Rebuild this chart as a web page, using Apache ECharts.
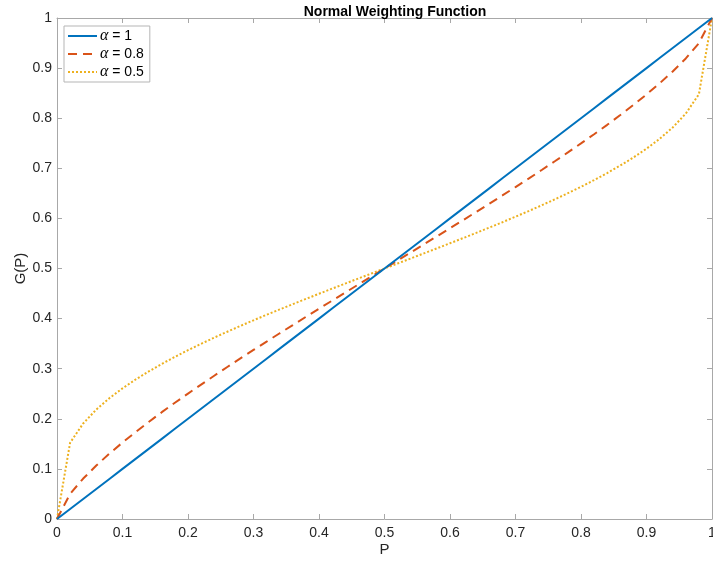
<!DOCTYPE html>
<html>
<head>
<meta charset="utf-8">
<script src="https://cdn.jsdelivr.net/npm/echarts@6/dist/echarts.min.js"></script>
<style>
  html, body { margin: 0; padding: 0; background: #fff; }
  #main { width: 713px; height: 562px; }
</style>
</head>
<body>
<div id="main"></div>
<script>
  // P samples (step 0.02)
  var pValues = [0, 0.02, 0.04, 0.06, 0.08, 0.1, 0.12, 0.14, 0.16, 0.18, 0.2, 0.22, 0.24, 0.26, 0.28, 0.3, 0.32, 0.34, 0.36, 0.38, 0.4, 0.42, 0.44, 0.46, 0.48, 0.5,
    0.52, 0.54, 0.56, 0.58, 0.6, 0.62, 0.64, 0.66, 0.68, 0.7, 0.72, 0.74, 0.76, 0.78, 0.8, 0.82, 0.84, 0.86, 0.88, 0.9, 0.92, 0.94, 0.96, 0.98, 1]
  var gAlpha1 = [0, 0.02, 0.04, 0.06, 0.08, 0.1, 0.12, 0.14, 0.16, 0.18, 0.2, 0.22, 0.24, 0.26, 0.28, 0.3, 0.32, 0.34, 0.36, 0.38, 0.4, 0.42, 0.44, 0.46, 0.48, 0.5,
    0.52, 0.54, 0.56, 0.58, 0.6, 0.62, 0.64, 0.66, 0.68, 0.7, 0.72, 0.74, 0.76, 0.78, 0.8, 0.82, 0.84, 0.86, 0.88, 0.9, 0.92, 0.94, 0.96, 0.98, 1]
  var gAlpha08 = [0, 0.0502, 0.0807, 0.1068, 0.1305, 0.1526, 0.1736, 0.1937, 0.2132, 0.2320, 0.2503, 0.2683, 0.2860, 0.3034, 0.3206, 0.3374, 0.3541, 0.3707, 0.3871, 0.4035, 0.4197, 0.4358, 0.4519, 0.4680, 0.4840, 0.5,
    0.5160, 0.5320, 0.5481, 0.5642, 0.5803, 0.5965, 0.6129, 0.6293, 0.6459, 0.6626, 0.6794, 0.6966, 0.7140, 0.7317, 0.7497, 0.7680, 0.7868, 0.8063, 0.8264, 0.8474, 0.8695, 0.8932, 0.9193, 0.9498, 1]
  var gAlpha05 = [0, 0.1522, 0.1907, 0.2185, 0.2412, 0.2608, 0.2784, 0.2945, 0.3095, 0.3236, 0.3370, 0.3497, 0.3620, 0.3738, 0.3854, 0.3966, 0.4076, 0.4183, 0.4289, 0.4393, 0.4496, 0.4598, 0.4699, 0.4800, 0.4900, 0.5,
    0.5100, 0.5200, 0.5301, 0.5402, 0.5504, 0.5607, 0.5711, 0.5817, 0.5924, 0.6034, 0.6146, 0.6262, 0.6380, 0.6503, 0.6630, 0.6764, 0.6905, 0.7055, 0.7216, 0.7392, 0.7588, 0.7815, 0.8093, 0.8478, 1]
  var seriesNames = ['α = 1', 'α = 0.8', 'α = 0.5']
  var tickLabels = ['0', '0.1', '0.2', '0.3', '0.4', '0.5', '0.6', '0.7', '0.8', '0.9', '1']

  function pairs (ys) {
    return pValues.map(function (p, i) { return [p, ys[i]] })
  }

  var font = 'Liberation Sans, Arial, Helvetica, sans-serif'
  var axisGray = '#a8a8a8'
  var textColor = '#262626'

  function fmt (v) {
    return tickLabels[Math.round(v * 10)]
  }

  var baseAxis = {
    type: 'value',
    min: 0,
    max: 1,
    interval: 0.1,
    axisLine: { show: true, onZero: false, lineStyle: { color: axisGray, width: 1 } },
    axisTick: { show: true, inside: true, length: 5, lineStyle: { color: axisGray } },
    splitLine: { show: false }
  }

  var myChart = echarts.init(document.getElementById('main'))
  myChart.setOption({
    animation: false,
    backgroundColor: '#ffffff',
    title: {
      text: 'Normal Weighting Function',
      left: 390,
      textAlign: 'center',
      top: 0,
      textStyle: { fontFamily: font, fontSize: 14, fontWeight: 'bold', color: '#000' }
    },
    grid: { left: 57, right: 1, top: 18, bottom: 43, containLabel: false, outerBoundsMode: 'none' },
    legend: {
      orient: 'vertical',
      left: 64,
      top: 26,
      padding: [2, 6, 2, 3],
      itemGap: 2,
      itemWidth: 29,
      itemHeight: 15,
      backgroundColor: '#fff',
      borderColor: '#b5b5b5',
      borderWidth: 1,
      borderRadius: 0,
      itemStyle: { opacity: 0 },
      data: seriesNames,
      formatter: function (name) {
        return '{a|α}' + name.slice(1)
      },
      textStyle: {
        fontFamily: font,
        fontSize: 14,
        color: '#000',
        padding: [0, 0, 0, -2],
        rich: {
          a: { fontFamily: 'Liberation Serif, DejaVu Serif, serif', fontStyle: 'italic', fontSize: 16, color: '#000' }
        }
      }
    },
    xAxis: [
      Object.assign({}, baseAxis, {
        position: 'bottom',
        name: 'P',
        nameLocation: 'middle',
        nameGap: 23,
        nameMoveOverlap: false,
        nameTextStyle: { fontFamily: font, fontSize: 15, color: textColor },
        axisLabel: { fontFamily: font, fontSize: 14, color: textColor, margin: 7, formatter: fmt }
      }),
      Object.assign({}, baseAxis, {
        position: 'top',
        axisLabel: { show: false }
      })
    ],
    yAxis: [
      Object.assign({}, baseAxis, {
        position: 'left',
        name: 'G(P)',
        nameLocation: 'middle',
        nameGap: 29,
        nameMoveOverlap: false,
        nameTextStyle: { fontFamily: font, fontSize: 15, color: textColor },
        axisLabel: { fontFamily: font, fontSize: 14, color: textColor, margin: 5, formatter: fmt }
      }),
      Object.assign({}, baseAxis, {
        position: 'right',
        axisLabel: { show: false }
      })
    ],
    series: [{
      name: seriesNames[0],
      type: 'line',
      data: pairs(gAlpha1),
      showSymbol: false,
      symbol: 'none',
      lineStyle: { color: '#0072BD', width: 2, type: 'solid' },
      itemStyle: { color: '#0072BD' },
      z: 3
    }, {
      name: seriesNames[1],
      type: 'line',
      data: pairs(gAlpha08),
      showSymbol: false,
      symbol: 'none',
      lineStyle: { color: '#D95319', width: 2, type: [9, 6] },
      itemStyle: { color: '#D95319' },
      z: 2
    }, {
      name: seriesNames[2],
      type: 'line',
      data: pairs(gAlpha05),
      showSymbol: false,
      symbol: 'none',
      lineStyle: { color: '#EDB120', width: 2, type: [2, 2] },
      itemStyle: { color: '#EDB120' },
      z: 1
    }]
  })
</script>
</body>
</html>
